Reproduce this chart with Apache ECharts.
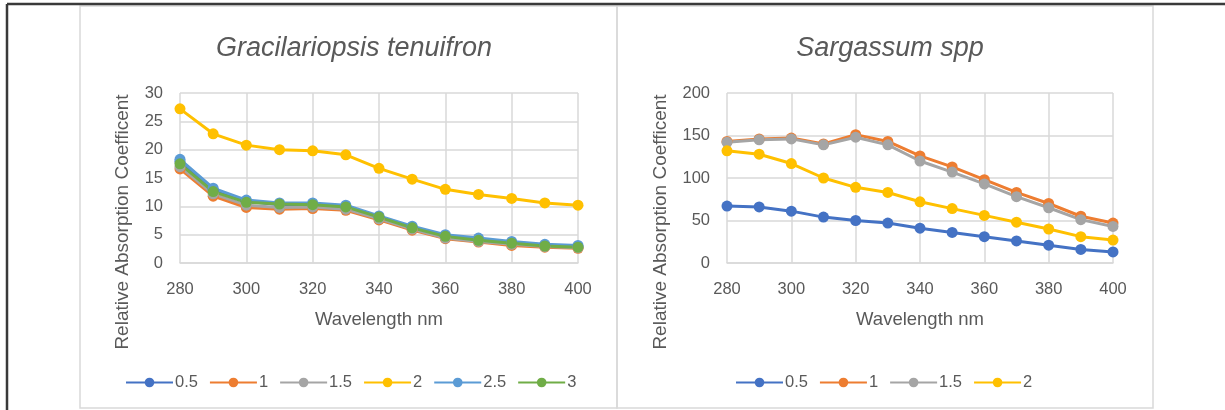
<!DOCTYPE html>
<html>
<head>
<meta charset="utf-8">
<script src="https://cdn.jsdelivr.net/npm/echarts@6/dist/echarts.min.js"></script>
<style>
  html, body { margin: 0; padding: 0; background: #fff; }
  #main { width: 1225px; height: 410px; }
</style>
</head>
<body>
<div id="main"></div>
<script>
// wavelength (nm) on the x axis, shared by both panels
const wavelengths = [280, 290, 300, 310, 320, 330, 340, 350, 360, 370, 380, 390, 400];

// Gracilariopsis tenuifron, one array per concentration
const seriesNamesG = ['0.5', '1', '1.5', '2', '2.5', '3'];
const grac05 = [17.9, 12.9, 10.9, 10.3, 10.3, 9.9, 8.0, 6.3, 4.7, 4.1, 3.5, 3.1, 2.9];
const grac1 = [16.6, 11.8, 9.8, 9.5, 9.6, 9.3, 7.6, 5.8, 4.3, 3.7, 3.1, 2.8, 2.6];
const grac15 = [17.0, 12.2, 10.2, 9.8, 9.9, 9.5, 7.8, 6.0, 4.4, 3.8, 3.3, 2.9, 2.7];
const grac2 = [27.2, 22.8, 20.8, 20.0, 19.8, 19.1, 16.7, 14.8, 13.0, 12.1, 11.4, 10.6, 10.2];
const grac25 = [18.3, 13.2, 11.1, 10.6, 10.6, 10.2, 8.3, 6.5, 5.0, 4.4, 3.8, 3.3, 3.1];
const grac3 = [17.5, 12.6, 10.7, 10.4, 10.3, 9.9, 8.1, 6.2, 4.7, 4.0, 3.5, 3.0, 2.8];

// Sargassum spp
const seriesNamesS = ['0.5', '1', '1.5', '2'];
const sarg05 = [67, 66, 61, 54, 50, 47, 41, 36, 31, 26, 21, 16, 13];
const sarg1 = [143, 146, 147, 140, 151, 143, 126, 113, 98, 83, 70, 55, 47];
const sarg15 = [142, 145, 146, 139, 148, 139, 120, 107, 93, 78, 65, 51, 43];
const sarg2 = [132, 128, 117, 100, 89, 83, 72, 64, 56, 48, 40, 31, 27];

// office palette
const colors = ['#4472C4', '#ED7D31', '#A5A5A5', '#FFC000', '#5B9BD5', '#70AD47'];

const FONT = "'Liberation Sans', Arial, sans-serif";
const TXT = '#595959';
const GRIDC = '#D9D9D9';

function pairs(ys) {
    return wavelengths.map((x, i) => [x, ys[i]]);
}

function lineSeries(name, ys, idx, axisIdx) {
    return {
        name: name,
        type: 'line',
        xAxisIndex: axisIdx,
        yAxisIndex: axisIdx,
        data: pairs(ys),
        symbol: 'circle',
        symbolSize: 11,
        color: colors[idx],
        lineStyle: { width: 3 },
        animation: false,
    };
}

function xAxisFor(gridIdx) {
    return {
        type: 'value',
        gridIndex: gridIdx,
        min: 280,
        max: 400,
        interval: 20,
        name: 'Wavelength nm',
        nameLocation: 'middle',
        nameGap: 47,
        nameTextStyle: { color: TXT, fontSize: 18.5, fontFamily: FONT },
        axisLine: { show: true, lineStyle: { color: GRIDC, width: 1.5 } },
        axisTick: { show: false },
        axisLabel: { color: TXT, fontSize: 16.5, fontFamily: FONT, margin: 18 },
        splitLine: { show: true, lineStyle: { color: GRIDC, width: 1.5 } },
    };
}

function yAxisFor(gridIdx, max, interval) {
    return {
        type: 'value',
        gridIndex: gridIdx,
        min: 0,
        max: max,
        interval: interval,
        axisLine: { show: false },
        axisTick: { show: false },
        axisLabel: { color: TXT, fontSize: 16.5, fontFamily: FONT, margin: 17 },
        splitLine: { show: true, lineStyle: { color: GRIDC, width: 1.5 } },
    };
}

var chart = echarts.init(document.getElementById('main'), null, { renderer: 'canvas' });

const graciSeries = [grac05, grac1, grac15, grac2, grac25, grac3]
    .map((ys, i) => lineSeries(seriesNamesG[i], ys, i, 0));
const sargSeries = [sarg05, sarg1, sarg15, sarg2]
    .map((ys, i) => lineSeries(seriesNamesS[i], ys, i, 1));

function legendFor(names, left) {
    return {
        data: names,
        left: left,
        top: 369,
        itemWidth: 47,
        itemHeight: 12,
        itemGap: 11,
        textStyle: { color: TXT, fontSize: 16.5, fontFamily: FONT, padding: [0, 0, 0, -3] },
    };
}

function titleFor(text, center) {
    return {
        text: text,
        left: center,
        textAlign: 'center',
        top: 30,
        textStyle: { color: TXT, fontSize: 27, fontWeight: 'normal', fontStyle: 'italic', fontFamily: FONT },
    };
}

function yNameFor(x) {
    return {
        type: 'text', x: x, y: 222, rotation: Math.PI / 2,
        style: { text: 'Relative Absorption Coefficent', fill: TXT, font: '19px ' + FONT, align: 'center', verticalAlign: 'middle' },
    };
}

let option = {
    animation: false,
    backgroundColor: '#fff',
    title: [
        titleFor('Gracilariopsis tenuifron', 349),
        titleFor('Sargassum spp', 885),
    ],
    legend: [
        legendFor(seriesNamesG, 120),
        legendFor(seriesNamesS, 730),
    ],
    grid: [
        { left: 180, top: 93, width: 398, height: 170 },
        { left: 727, top: 93, width: 386, height: 170 },
    ],
    xAxis: [xAxisFor(0), xAxisFor(1)],
    yAxis: [yAxisFor(0, 30, 5), yAxisFor(1, 200, 50)],
    series: graciSeries.concat(sargSeries),
    graphic: [
        // chart frames
        { type: 'rect', shape: { x: 80, y: 6, width: 537, height: 402 }, style: { fill: 'none', stroke: '#D9D9D9', lineWidth: 1.5 }, z: -1 },
        { type: 'rect', shape: { x: 617, y: 6, width: 536, height: 402 }, style: { fill: 'none', stroke: '#D9D9D9', lineWidth: 1.5 }, z: -1 },
        // page border
        { type: 'line', shape: { x1: 7, y1: 4, x2: 1225, y2: 4 }, style: { stroke: '#3a3a3a', lineWidth: 2.5 } },
        { type: 'line', shape: { x1: 7, y1: 4, x2: 7, y2: 410 }, style: { stroke: '#3a3a3a', lineWidth: 2.5 } },
        // y axis titles
        yNameFor(123),
        yNameFor(661),
    ],
};

chart.setOption(option);
</script>
</body>
</html>
